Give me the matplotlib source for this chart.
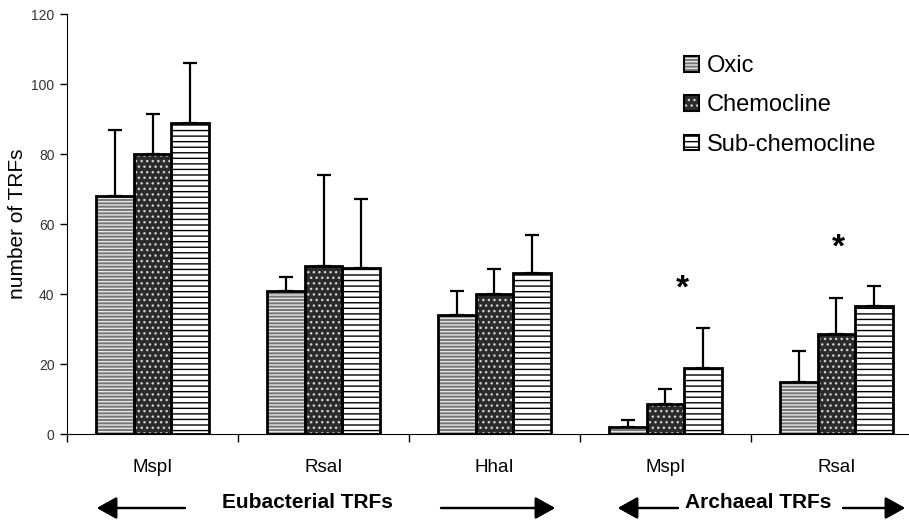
import numpy as np
import matplotlib
matplotlib.use("Agg")
import matplotlib.pyplot as plt
from matplotlib.patches import Patch
from matplotlib.legend_handler import HandlerTuple

categories = ["MspI", "RsaI", "HhaI", "MspI", "RsaI"]
series = ["Oxic", "Chemocline", "Sub-chemocline"]
oxic = [68, 41, 34, 2, 14.8]
chemocline = [80, 48, 40, 8.6, 28.6]
subchemocline = [89, 47.5, 46, 18.8, 36.6]
oxic_err = [18.8, 3.8, 7, 2, 8.9]
chemocline_err = [11.5, 26, 7.2, 4.2, 10.3]
subchemocline_err = [17, 19.7, 11, 11.4, 5.7]
# significance markers: (category index, bar offset, y value)
stars = [(3, 0.10, 41.5), (4, 0.01, 53)]

plt.rcParams["font.family"] = ["Liberation Sans", "DejaVu Sans"]
plt.rcParams["hatch.linewidth"] = 1.0

W, H = 909, 524
fig = plt.figure(figsize=(W / 100, H / 100), dpi=100)
ax = fig.add_axes([67 / W, (H - 434) / H, (908 - 67) / W, (434 - 14) / H])

# look of each series: face, hatch, hatch colour
styles = [("#777777", "-----", "#e6e6e6"),
          ("#2b2b2b", "...", "#d0d0d0"),
          ("white", "---", "black")]
values = [oxic, chemocline, subchemocline]
errors = [oxic_err, chemocline_err, subchemocline_err]

x = np.arange(len(categories))
width = 0.22
handles = []
for i, (vals, errs, (face, hatch, hcol)) in enumerate(zip(values, errors, styles)):
    pos = x + (i - 1) * width
    ax.bar(pos, vals, width, color=face, hatch=hatch, edgecolor=hcol, linewidth=0, zorder=2)
    ax.bar(pos, vals, width, fill=False, edgecolor="black", linewidth=2, zorder=3)
    ax.errorbar(pos, vals, yerr=[np.zeros(len(errs)), errs], fmt="none", ecolor="black",
                elinewidth=1.6, capsize=5, capthick=1.6, zorder=1)
    handles.append((Patch(facecolor=face, hatch=hatch, edgecolor=hcol, linewidth=0),
                    Patch(fill=False, edgecolor="black", linewidth=1.5)))

for ci, off, yv in stars:
    ax.text(ci + off, yv, "*", ha="center", va="center", fontsize=24, fontweight="bold")

ax.set_yticks(range(0, 121, 20))
ax.tick_params(axis="y", length=5, width=1, labelsize=10, labelcolor="#333333", pad=4)
ax.set_xticks(np.arange(-0.5, len(categories), 1))
ax.set_xticklabels([])
ax.tick_params(axis="x", which="major", length=6, width=1)
ax.set_xticks(x, minor=True)
ax.set_xticklabels(categories, minor=True, fontsize=13.5)
ax.tick_params(axis="x", which="minor", length=0, pad=18)
ax.set_xlim(-0.5, (908 - 67) / 171 - 0.5)
ax.set_ylim(0, 120)
ax.spines["top"].set_visible(False)
ax.spines["right"].set_visible(False)
ax.set_ylabel("number of TRFs", fontsize=15, labelpad=3)

leg = ax.legend(handles, series, handler_map={tuple: HandlerTuple(ndivide=1)},
                loc="upper left", bbox_to_anchor=(684 / W, (H - 55) / H),
                bbox_transform=fig.transFigure, frameon=False, fontsize=17,
                handlelength=0.64, handleheight=0.64, handletextpad=0.34,
                labelspacing=0.74, borderpad=0, borderaxespad=0)


def px(xp, yp):
    return (xp / W, 1 - yp / H)


arrow = dict(arrowstyle="-|>,head_length=0.45,head_width=0.25", color="black",
             lw=1.6, mutation_scale=27, shrinkA=0, shrinkB=0)
ay = 508
for tip, tail in [(97, 185), (555, 441), (618, 678), (905, 843)]:
    fig.add_artist(plt.annotate("", xy=px(tip, ay), xytext=px(tail, ay),
                                xycoords="figure fraction", textcoords="figure fraction",
                                arrowprops=arrow))
fig.text(*px(307, 503), "Eubacterial TRFs", ha="center", va="center",
         fontsize=15, fontweight="bold")
fig.text(*px(758, 503), "Archaeal TRFs", ha="center", va="center",
         fontsize=15, fontweight="bold")

fig.savefig("out.png", dpi=100)
